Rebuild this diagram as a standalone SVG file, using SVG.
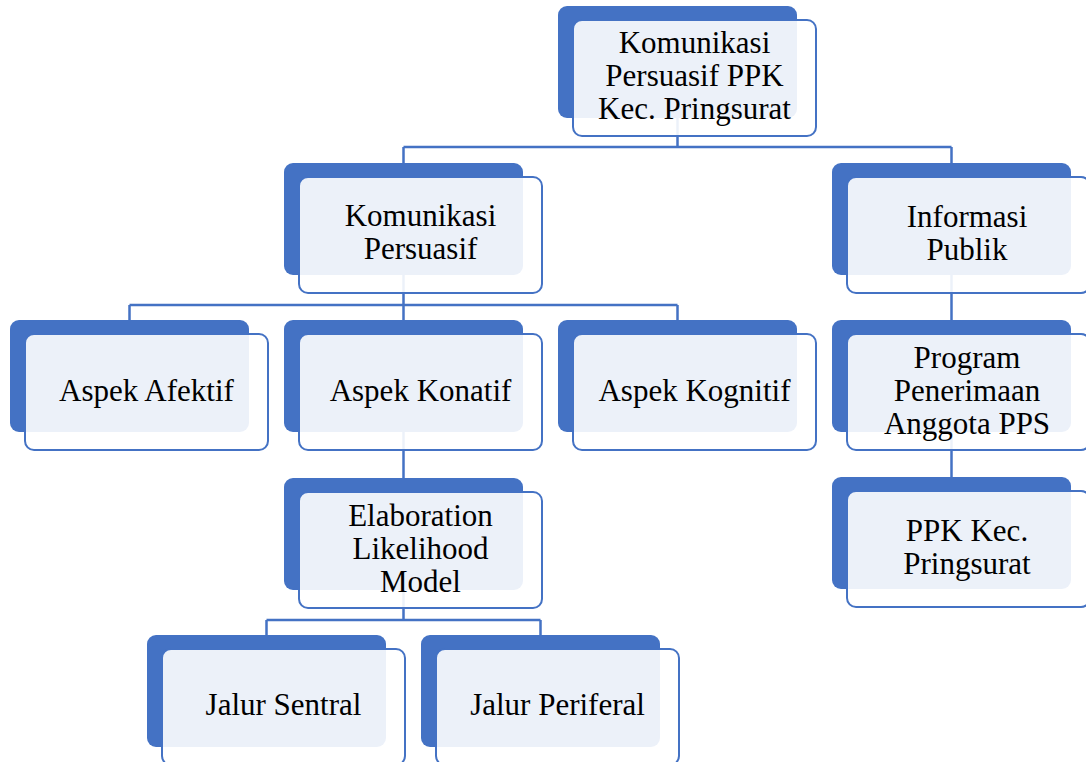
<svg xmlns="http://www.w3.org/2000/svg" width="1086" height="762" viewBox="0 0 1086 762">
<style>
.back{fill:#4472C4;}
.front{fill:#ffffff;fill-opacity:0.9;stroke:#4472C4;stroke-width:2;}
.conn{fill:none;stroke:#4472C4;stroke-width:2.5;}
text{font-family:"Liberation Serif","Times New Roman",serif;font-size:31px;fill:#000;text-anchor:middle;}
</style>
<rect width="1086" height="762" fill="#ffffff"/>
<g id="connectors">
<path class="conn" d="M677.5 60 V147 M403.5 147 H951.5 M403.5 147 V200 M951.5 147 V200"/>
<path class="conn" d="M403.5 220 V305 M129.5 305 H677.5 M129.5 305 V360 M403.5 305 V360 M677.5 305 V360"/>
<path class="conn" d="M951.5 220 V380"/>
<path class="conn" d="M951.5 380 V530"/>
<path class="conn" d="M403.5 380 V530"/>
<path class="conn" d="M403.5 530 V620 M266.5 620 H540.5 M266.5 620 V680 M540.5 620 V680"/>
</g>
<g id="n-top">
<rect class="back" x="558" y="6" width="239" height="112" rx="9"/>
<rect class="front" x="573" y="20" width="243" height="116" rx="9"/>
<text x="694.5" y="53">Komunikasi</text>
<text x="694.5" y="86">Persuasif PPK</text>
<text x="694.5" y="119">Kec. Pringsurat</text>
</g>
<g id="n-kp">
<rect class="back" x="284" y="163" width="239" height="112" rx="9"/>
<rect class="front" x="299" y="177" width="243" height="116" rx="9"/>
<text x="420.5" y="226">Komunikasi</text>
<text x="420.5" y="259">Persuasif</text>
</g>
<g id="n-ip">
<rect class="back" x="832" y="163" width="239" height="112" rx="9"/>
<rect class="front" x="847" y="177" width="243" height="116" rx="9"/>
<text x="967" y="227">Informasi</text>
<text x="967" y="260">Publik</text>
</g>
<g id="n-afektif">
<rect class="back" x="10" y="320" width="239" height="112" rx="9"/>
<rect class="front" x="25" y="334" width="243" height="116" rx="9"/>
<text x="146.5" y="401">Aspek Afektif</text>
</g>
<g id="n-konatif">
<rect class="back" x="284" y="320" width="239" height="112" rx="9"/>
<rect class="front" x="299" y="334" width="243" height="116" rx="9"/>
<text x="420.5" y="401">Aspek Konatif</text>
</g>
<g id="n-kognitif">
<rect class="back" x="558" y="320" width="239" height="112" rx="9"/>
<rect class="front" x="573" y="334" width="243" height="116" rx="9"/>
<text x="694.5" y="401">Aspek Kognitif</text>
</g>
<g id="n-program">
<rect class="back" x="832" y="320" width="239" height="112" rx="9"/>
<rect class="front" x="847" y="334" width="243" height="116" rx="9"/>
<text x="967" y="368">Program</text>
<text x="967" y="401">Penerimaan</text>
<text x="967" y="434">Anggota PPS</text>
</g>
<g id="n-elm">
<rect class="back" x="284" y="478" width="239" height="112" rx="9"/>
<rect class="front" x="299" y="492" width="243" height="116" rx="9"/>
<text x="420.5" y="526">Elaboration</text>
<text x="420.5" y="559">Likelihood</text>
<text x="420.5" y="592">Model</text>
</g>
<g id="n-ppk">
<rect class="back" x="832" y="477" width="239" height="112" rx="9"/>
<rect class="front" x="847" y="491" width="243" height="116" rx="9"/>
<text x="967" y="541">PPK Kec.</text>
<text x="967" y="574">Pringsurat</text>
</g>
<g id="n-sentral">
<rect class="back" x="147" y="635" width="239" height="112" rx="9"/>
<rect class="front" x="162" y="649" width="243" height="116" rx="9"/>
<text x="283.5" y="715">Jalur Sentral</text>
</g>
<g id="n-periferal">
<rect class="back" x="421" y="635" width="239" height="112" rx="9"/>
<rect class="front" x="436" y="649" width="243" height="116" rx="9"/>
<text x="557.5" y="715">Jalur Periferal</text>
</g>
</svg>
